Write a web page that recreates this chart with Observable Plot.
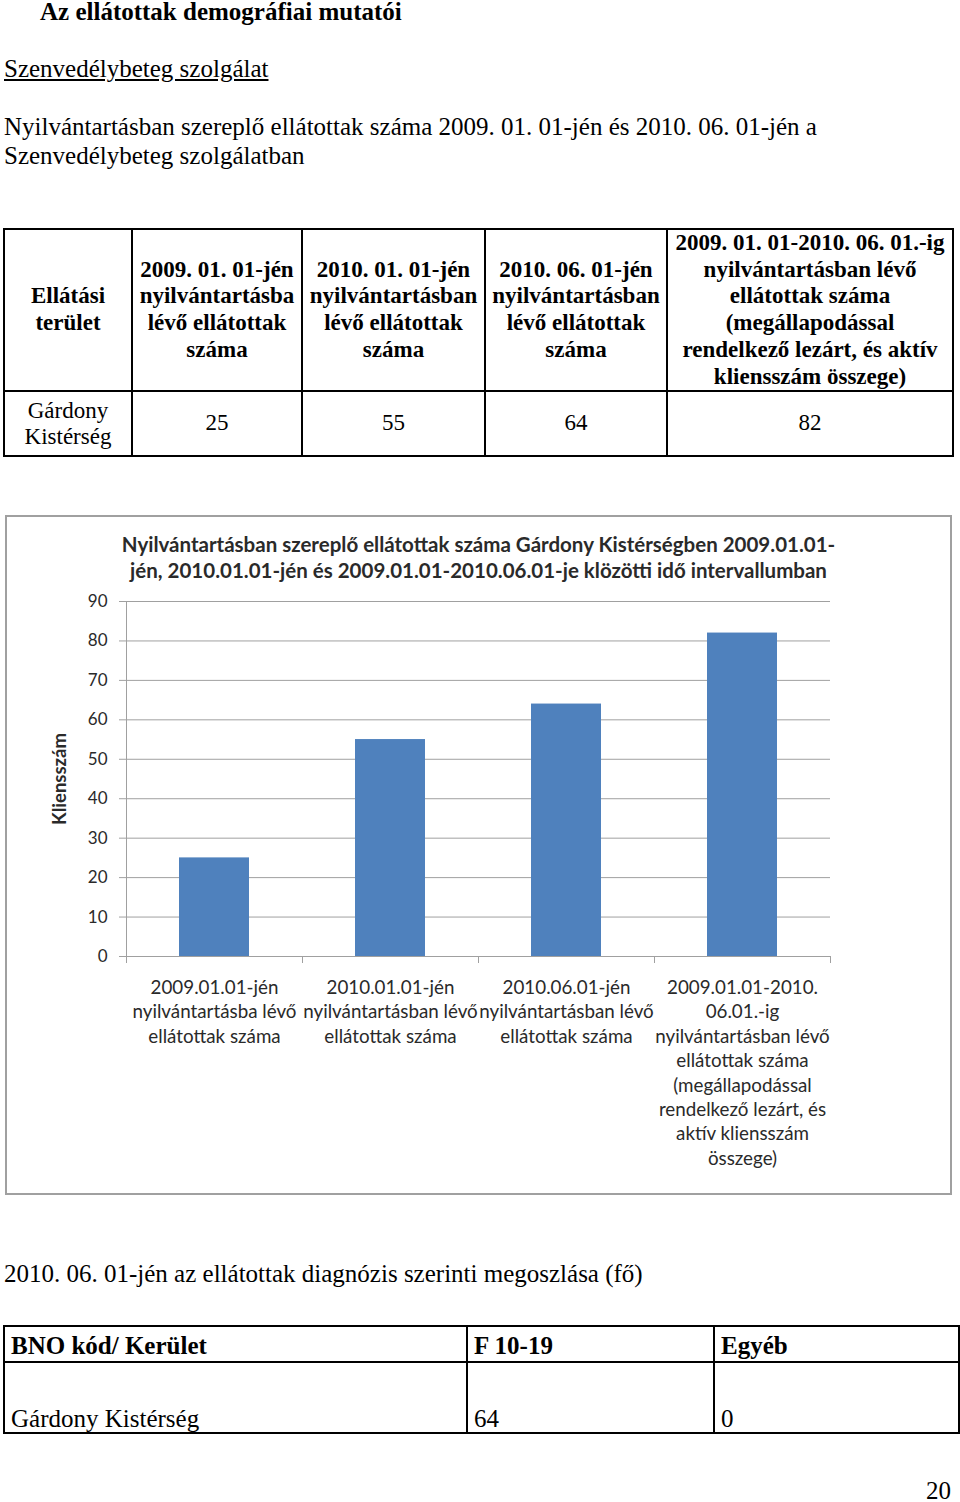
<!DOCTYPE html>
<html><head><meta charset="utf-8">
<script src="https://cdn.jsdelivr.net/npm/d3@7"></script>
<script src="https://cdn.jsdelivr.net/npm/@observablehq/plot@0.6"></script>
<style>
html,body{margin:0;padding:0;background:#fff;}
body{width:960px;height:1502px;position:relative;overflow:hidden;font-family:"Liberation Serif","Times New Roman",serif;color:#000;}
.t{position:absolute;white-space:pre;font-size:25px;line-height:29px;}
table{border-collapse:collapse;table-layout:fixed;position:absolute;font-size:25px;}
td{border:2px solid #000;padding:0;white-space:pre-line;}
#t1 td{text-align:center;vertical-align:middle;line-height:26.7px;font-size:23px;}
#t1 tr.h td{font-weight:bold;}
#t2 td{text-align:left;padding-left:6px;line-height:26px;}
#t2 tr.h td{font-weight:bold;vertical-align:middle;padding-top:3px;}
#t2 tr.d td{vertical-align:bottom;padding-bottom:0px;}
#chartbox{position:absolute;left:5px;top:515px;width:943px;height:676px;border:2px solid #a0a0a0;background:#fff;}
#chartbox svg{display:block;}
</style></head><body>
<div class="t" style="left:40px;top:-3px;font-weight:bold;">Az ellátottak demográfiai mutatói</div>
<div class="t" style="left:4px;top:54px;text-decoration:underline;">Szenvedélybeteg szolgálat</div>
<div class="t" style="left:4px;top:112px;">Nyilvántartásban szereplő ellátottak száma 2009. 01. 01-jén és 2010. 06. 01-jén a
Szenvedélybeteg szolgálatban</div>
<table id="t1" style="left:3px;top:228px;width:949px;"></table>
<div id="chartbox"></div>
<div class="t" style="left:4px;top:1259px;">2010. 06. 01-jén az ellátottak diagnózis szerinti megoszlása (fő)</div>
<table id="t2" style="left:3px;top:1325px;width:955px;"></table>
<div class="t" style="left:926px;top:1476px;">20</div>
<script>
// ---- Data ----
const table1Header = ["Ellátási\nterület", "2009. 01. 01-jén\nnyilvántartásba\nlévő ellátottak\nszáma", "2010. 01. 01-jén\nnyilvántartásban\nlévő ellátottak\nszáma", "2010. 06. 01-jén\nnyilvántartásban\nlévő ellátottak\nszáma", "2009. 01. 01-2010. 06. 01.-ig\nnyilvántartásban lévő\nellátottak száma\n(megállapodással\nrendelkező lezárt, és aktív\nkliensszám összege)"];
const area = "Gárdony\nKistérség";
const values = [25, 55, 64, 82];
const categories = ["2009.01.01-jén\nnyilvántartásba lévő\nellátottak száma", "2010.01.01-jén\nnyilvántartásban lévő\nellátottak száma", "2010.06.01-jén\nnyilvántartásban lévő\nellátottak száma", "2009.01.01-2010.\n06.01.-ig\nnyilvántartásban lévő\nellátottak száma\n(megállapodással\nrendelkező lezárt, és\naktív kliensszám\nösszege)"];
const yTicks = [0, 10, 20, 30, 40, 50, 60, 70, 80, 90];
const chartTitle = "Nyilvántartásban szereplő ellátottak száma Gárdony Kistérségben 2009.01.01-\njén, 2010.01.01-jén és 2009.01.01-2010.06.01-je klözötti idő intervallumban";
const yLabel = "Kliensszám";
const table2Header = ["BNO kód/ Kerület", "F 10-19", "Egyéb"];
const table2Row = ["Gárdony Kistérség", "64", "0"];

// ---- Table 1 ----
const t1 = document.getElementById("t1");
const t1w = [128, 170, 183, 182, 286];
t1.innerHTML = "<colgroup>" + t1w.map(w => `<col style="width:${w}px">`).join("") + "</colgroup>" +
  `<tr class="h" style="height:159px">` + table1Header.map(h => `<td>${h}</td>`).join("") + "</tr>" +
  `<tr class="d" style="height:65px"><td style="line-height:26px">${area}</td>` + values.map(v => `<td>${v}</td>`).join("") + "</tr>";

// ---- Table 2 ----
const t2 = document.getElementById("t2");
const t2w = [463, 247, 245];
t2.innerHTML = "<colgroup>" + t2w.map(w => `<col style="width:${w}px">`).join("") + "</colgroup>" +
  `<tr class="h" style="height:36px">` + table2Header.map(h => `<td>${h}</td>`).join("") + "</tr>" +
  `<tr class="d" style="height:71px">` + table2Row.map(v => `<td>${v}</td>`).join("") + "</tr>";

// ---- Chart ----
const W = 943, H = 676, mL = 119, mR = 120, mT = 84, mB = 237;
const step = (W - mL - mR) / categories.length;
const axisGray = "#a0a0a0";
const chart = Plot.plot({
  width: W, height: H,
  marginLeft: mL, marginRight: mR, marginTop: mT, marginBottom: mB,
  style: {fontFamily: "Lato, 'Open Sans', sans-serif", color: "#2a2a2a", background: "#fff", overflow: "visible"},
  x: {domain: categories, paddingInner: 0.6, paddingOuter: 0.3, axis: null},
  y: {domain: [0, 90], axis: null},
  marks: [
    Plot.gridY(yTicks, {stroke: axisGray, strokeOpacity: 1}),
    Plot.axisY(yTicks, {tickSize: 7, tickPadding: 12, fontSize: 17, stroke: axisGray, label: null}),
    Plot.ruleX([categories[0]], {x: d => d, dx: -step / 2, insetBottom: -7, stroke: axisGray}),
    Plot.ruleX(categories.slice(1), {x: d => d, dx: -step / 2, insetTop: H - mT - mB, insetBottom: -7, stroke: axisGray}),
    Plot.ruleX([categories[categories.length - 1]], {x: d => d, dx: step / 2, insetTop: H - mT - mB, insetBottom: -7, stroke: axisGray}),
    Plot.barY(values, {x: (d, i) => categories[i], y: d => d, fill: "#4F81BD"}),
    Plot.text(categories, {x: d => d, text: d => d, frameAnchor: "bottom", lineAnchor: "top", dy: 20, lineHeight: 1.30, fontSize: 18.8}),
    Plot.text([chartTitle], {frameAnchor: "top", lineAnchor: "top", dy: -68.5, lineHeight: 1.27, fontSize: 20.5, fontWeight: "bold"}),
    Plot.text([yLabel], {frameAnchor: "left", textAnchor: "middle", rotate: -90, dx: -66, fontSize: 18.5, fontWeight: "bold"})
  ]
});
document.getElementById("chartbox").appendChild(chart);
</script>
</body></html>
